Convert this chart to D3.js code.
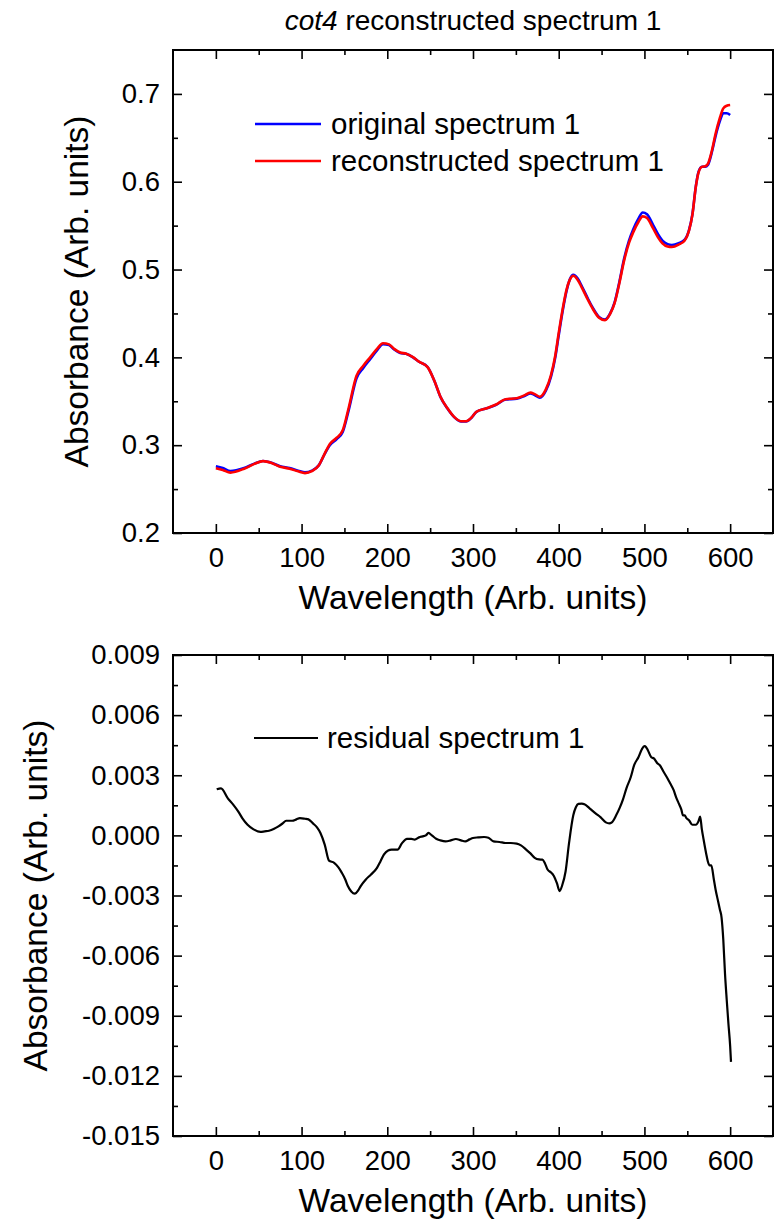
<!DOCTYPE html>
<html>
<head>
<meta charset="utf-8">
<script src="https://cdn.jsdelivr.net/npm/d3@7"></script>
<style>
  html, body { margin: 0; padding: 0; background: #fff; }
  svg text { font-family: "Liberation Sans", Arial, Helvetica, sans-serif; fill: #000; }
</style>
</head>
<body>
<svg id="chart" width="775" height="1224"></svg>
<script>
// ---------- DATA ----------
const wavelength = [0, 8, 17, 33, 45, 55, 65, 75, 86, 96, 104, 112, 120, 127, 133, 141, 148, 155, 164, 172,
  180, 188, 195, 202, 208, 215, 222, 230, 237, 247, 255, 262, 270, 278, 286, 292, 298, 304, 316, 327,
  338, 351, 360, 367, 372, 378, 385, 391, 396, 400, 405, 409, 413, 417, 422, 427, 434, 440, 447, 454,
  460, 465, 471, 476, 482, 487, 493, 498, 503, 510, 516, 521, 527, 532, 540, 547, 552, 556, 560, 563,
  567, 571, 574, 579, 583, 588, 592, 596, 600];

const originalSpectrum = [0.276, 0.274, 0.2705, 0.274, 0.279, 0.282, 0.280, 0.276, 0.274, 0.271, 0.269, 0.271, 0.277, 0.290, 0.300, 0.307, 0.315, 0.340, 0.376, 0.388,
  0.398, 0.408, 0.415, 0.414, 0.409, 0.405, 0.404, 0.400, 0.395, 0.389, 0.373, 0.355, 0.342, 0.332, 0.327, 0.327, 0.331, 0.338, 0.342, 0.346,
  0.352, 0.353, 0.356, 0.359, 0.357, 0.354, 0.362, 0.378, 0.400, 0.425, 0.455, 0.475, 0.489, 0.494, 0.490, 0.481, 0.467, 0.456, 0.446, 0.443,
  0.450, 0.462, 0.487, 0.511, 0.533, 0.546, 0.558, 0.565, 0.563, 0.551, 0.540, 0.533, 0.529, 0.528, 0.530, 0.534, 0.545, 0.563, 0.595, 0.611,
  0.617, 0.617, 0.619, 0.635, 0.652, 0.669, 0.678, 0.678, 0.676];

const reconstructedSpectrum = [0.2737, 0.2717, 0.2688, 0.2732, 0.2787, 0.2818, 0.2797, 0.2755, 0.2732, 0.2702, 0.2682, 0.2704, 0.2768, 0.2905, 0.3013, 0.3085, 0.3169, 0.3426, 0.3789, 0.3905,
  0.400, 0.4096, 0.4161, 0.4148, 0.4097, 0.4056, 0.4042, 0.4002, 0.3951, 0.3889, 0.3731, 0.3552, 0.3423, 0.3322, 0.3273, 0.3273, 0.3312, 0.3381, 0.3421, 0.3463,
  0.3524, 0.3534, 0.3567, 0.3599, 0.3581, 0.3552, 0.3636, 0.3799, 0.4022, 0.4277, 0.4571, 0.4766, 0.4885, 0.493, 0.4885, 0.4794, 0.4656, 0.4548, 0.4451, 0.4423,
  0.4494, 0.4611, 0.4856, 0.509, 0.5303, 0.5426, 0.5541, 0.5606, 0.5587, 0.5471, 0.5364, 0.5298, 0.5262, 0.5256, 0.5284, 0.5331, 0.5443, 0.5625, 0.5945, 0.6102,
  0.6169, 0.6177, 0.6203, 0.6366, 0.6547, 0.6727, 0.6835, 0.6865, 0.6873];

const residualWavelength = [1, 6, 14, 20, 26, 31, 37, 44, 52, 57, 62, 68, 73, 78, 82, 89, 94, 98, 104, 108,
  113, 118, 122, 127, 132, 138, 143, 147, 151, 154, 158, 162, 166, 169, 175, 181, 188, 192, 196, 201,
  205, 212, 217, 223, 228, 232, 237, 241, 245, 248, 252, 257, 262, 268, 274, 280, 286, 291, 296, 300,
  306, 313, 318, 324, 331, 338, 344, 351, 356, 362, 367, 372, 377, 381, 384, 387, 391, 394, 398, 401,
  404, 408, 412, 417, 420, 423, 427, 430, 436, 443, 449, 455, 459, 462, 467, 471, 475, 479, 484, 488,
  493, 497, 500, 502, 504, 508, 511, 515, 518, 522, 527, 530, 534, 537, 540, 543, 545, 547, 549, 552,
  556, 560, 563, 565, 567, 569, 572, 574, 576, 578, 581, 583, 586, 588, 590, 592, 594, 596, 598, 600, 601];

const residualSpectrum = [0.0023, 0.00235, 0.00185, 0.00155, 0.0012, 0.00085, 0.00053, 0.0003, 0.00017, 0.0002, 0.00023, 0.00033, 0.00045, 0.0006, 0.00073, 0.00073, 0.0008, 0.00086, 0.00083, 0.0008,
  0.00061, 0.0004, 0.00012, -0.00046, -0.00126, -0.00137, -0.0016, -0.00187, -0.0022, -0.00253, -0.0028, -0.00291, -0.00275, -0.00253, -0.0022, -0.00195, -0.00162, -0.0013, -0.00096, -0.00075,
  -0.00071, -0.00071, -0.0004, -0.00017, -0.00017, -0.00021, -0.0001, -0.00005, 0.0, 0.00012, 0.0, -0.00017, -0.00025, -0.0003, -0.00025, -0.00018, -0.00025, -0.0003, -0.0002, -0.00013,
  -0.0001, -0.00008, -0.00012, -0.0003, -0.00033, -0.00038, -0.00038, -0.00041, -0.0005, -0.00071, -0.0009, -0.00112, -0.0012, -0.00121, -0.0014, -0.0017, -0.00185, -0.002, -0.0024, -0.00278,
  -0.0025, -0.0018, -0.0004, 0.001, 0.0014, 0.00157, 0.00158, 0.00155, 0.00135, 0.0011, 0.0009, 0.00065, 0.0006, 0.00065, 0.001, 0.00136, 0.0018, 0.00235, 0.0029, 0.0035,
  0.0039, 0.0043, 0.00445, 0.0044, 0.00425, 0.0039, 0.00384, 0.0036, 0.0035, 0.0032, 0.00284, 0.0026, 0.00227, 0.0019, 0.0016, 0.0013, 0.001, 0.0010, 0.00086, 0.00075,
  0.00053, 0.00053, 0.0007, 0.00094, 0.0003, -0.0002, -0.0009, -0.0013, -0.0015, -0.0015, -0.0022, -0.0027, -0.0033, -0.0037, -0.0041, -0.0052, -0.0069, -0.0082, -0.0094, -0.0105, -0.0113];

const xTicks = [0, 100, 200, 300, 400, 500, 600];
const xTickLabels = ["0", "100", "200", "300", "400", "500", "600"];
const xMinorTicks = [50, 150, 250, 350, 450, 550];

const topYTicks = [0.2, 0.3, 0.4, 0.5, 0.6, 0.7];
const topYTickLabels = ["0.2", "0.3", "0.4", "0.5", "0.6", "0.7"];
const topYMinorTicks = [0.25, 0.35, 0.45, 0.55, 0.65];

const botYTicks = [-0.015, -0.012, -0.009, -0.006, -0.003, 0.0, 0.003, 0.006, 0.009];
const botYTickLabels = ["-0.015", "-0.012", "-0.009", "-0.006", "-0.003", "0.000", "0.003", "0.006", "0.009"];
const botYMinorTicks = [-0.0135, -0.0105, -0.0075, -0.0045, -0.0015, 0.0015, 0.0045, 0.0075];

const legendTop = ["original spectrum 1", "reconstructed spectrum 1"];
const legendBottom = ["residual spectrum 1"];

// ---------- DRAW ----------
const svg = d3.select("#chart");
const FONT_TICK = 27.5, FONT_AXIS = 33.5, FONT_LEG = 29.5;

function panel(opts) {
  const x = d3.scaleLinear().domain([-50, 650]).range([173, 773]);
  const y = d3.scaleLinear().domain(opts.yDomain).range([opts.bottom, opts.top]);
  const g = svg.append("g");

  const styleAxis = sel => {
    sel.select(".domain").remove();
    sel.selectAll(".tick line").attr("stroke", "#000").attr("stroke-width", 1.6);
    sel.selectAll(".tick text").attr("font-size", FONT_TICK).attr("font-family", "Liberation Sans, Arial, sans-serif").attr("fill", "#000");
  };
  const labelMap = (ticks, labels) => v => labels[ticks.findIndex(t => Math.abs(t - v) < 1e-9)];

  g.append("g").attr("transform", `translate(0,${opts.bottom})`)
    .call(d3.axisBottom(x).tickValues(xTicks).tickSize(-9).tickPadding(14).tickFormat(labelMap(xTicks, xTickLabels))).call(styleAxis);
  g.append("g").attr("transform", `translate(0,${opts.bottom})`)
    .call(d3.axisBottom(x).tickValues(xMinorTicks).tickSize(-5).tickFormat("")).call(styleAxis);
  g.append("g").attr("transform", `translate(0,${opts.top})`)
    .call(d3.axisTop(x).tickValues(xTicks).tickSize(-9).tickFormat("")).call(styleAxis);
  g.append("g").attr("transform", `translate(0,${opts.top})`)
    .call(d3.axisTop(x).tickValues(xMinorTicks).tickSize(-5).tickFormat("")).call(styleAxis);
  g.append("g").attr("transform", `translate(173,0)`)
    .call(d3.axisLeft(y).tickValues(opts.yTicks).tickSize(-9).tickPadding(13).tickFormat(labelMap(opts.yTicks, opts.yLabels))).call(styleAxis);
  g.append("g").attr("transform", `translate(173,0)`)
    .call(d3.axisLeft(y).tickValues(opts.yMinor).tickSize(-5).tickFormat("")).call(styleAxis);
  g.append("g").attr("transform", `translate(773,0)`)
    .call(d3.axisRight(y).tickValues(opts.yTicks).tickSize(-9).tickFormat("")).call(styleAxis);
  g.append("g").attr("transform", `translate(773,0)`)
    .call(d3.axisRight(y).tickValues(opts.yMinor).tickSize(-5).tickFormat("")).call(styleAxis);

  g.append("rect").attr("x", 173).attr("y", opts.top).attr("width", 600).attr("height", opts.bottom - opts.top)
    .attr("fill", "none").attr("stroke", "#000").attr("stroke-width", 2);

  g.append("text").attr("x", 473).attr("y", opts.bottom + 76).attr("text-anchor", "middle")
    .attr("font-size", FONT_AXIS).text("Wavelength (Arb. units)");
  g.append("text").attr("transform", `translate(${opts.yTitleX},${(opts.top + opts.bottom) / 2}) rotate(-90)`)
    .attr("text-anchor", "middle").attr("font-size", FONT_AXIS).text("Absorbance (Arb. units)");

  return { x, y, g };
}

// Top panel
const p1 = panel({ top: 50, bottom: 533, yDomain: [0.2, 0.75], yTicks: topYTicks, yLabels: topYTickLabels, yMinor: topYMinorTicks, yTitleX: 88 });
const line1 = d3.line().x((d, i) => p1.x(wavelength[i])).y(d => p1.y(d)).curve(d3.curveMonotoneX);
p1.g.append("path").attr("d", line1(originalSpectrum)).attr("fill", "none").attr("stroke", "#0000ff").attr("stroke-width", 2.6);
p1.g.append("path").attr("d", line1(reconstructedSpectrum)).attr("fill", "none").attr("stroke", "#ff0000").attr("stroke-width", 2.6);

const legColors = ["#0000ff", "#ff0000"];
legendTop.forEach((t, i) => {
  const yy = 124 + i * 37;
  p1.g.append("line").attr("x1", 255).attr("x2", 321).attr("y1", yy).attr("y2", yy).attr("stroke", legColors[i]).attr("stroke-width", 2.6);
  p1.g.append("text").attr("x", 331).attr("y", yy + 10).attr("font-size", FONT_LEG).text(t);
});

const title = svg.append("text").attr("x", 473).attr("y", 30).attr("text-anchor", "middle").attr("font-size", 28);
title.append("tspan").attr("font-style", "italic").text("cot4");
title.append("tspan").text(" reconstructed spectrum 1");

// Bottom panel
const p2 = panel({ top: 655, bottom: 1136, yDomain: [-0.015, 0.009], yTicks: botYTicks, yLabels: botYTickLabels, yMinor: botYMinorTicks, yTitleX: 47 });
const line2 = d3.line().x((d, i) => p2.x(residualWavelength[i])).y(d => p2.y(d)).curve(d3.curveMonotoneX);
p2.g.append("path").attr("d", line2(residualSpectrum)).attr("fill", "none").attr("stroke", "#000").attr("stroke-width", 2.2);

legendBottom.forEach((t, i) => {
  const yy = 738;
  p2.g.append("line").attr("x1", 254).attr("x2", 318).attr("y1", yy).attr("y2", yy).attr("stroke", "#000").attr("stroke-width", 2.2);
  p2.g.append("text").attr("x", 327).attr("y", yy + 10).attr("font-size", FONT_LEG).text(t);
});
</script>
</body>
</html>
